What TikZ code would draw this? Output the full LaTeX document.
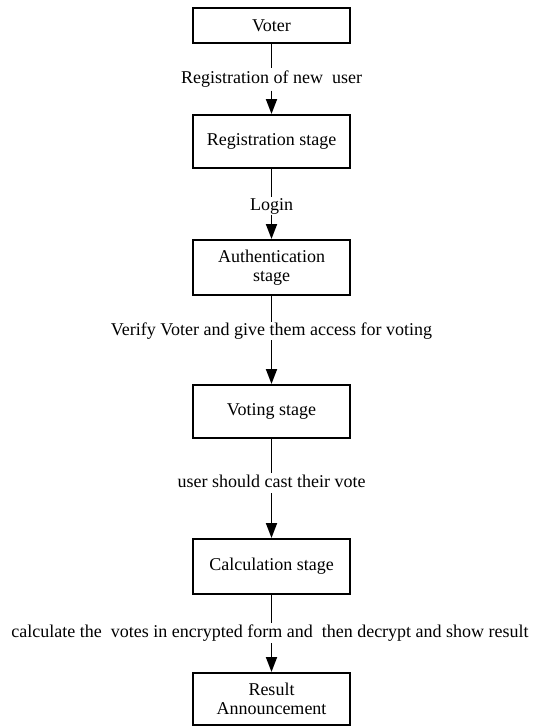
\documentclass[tikz,border=0pt]{standalone}
\usepackage{fontspec}
\setmainfont{Liberation Serif}
\usetikzlibrary{arrows.meta}
\begin{document}
\begin{tikzpicture}[x=1pt,y=-1pt,
  stagebox/.style={draw, line width=2pt, minimum width=157pt, inner sep=0pt, align=center, font=\fontsize{18}{19}\selectfont},
  lbl/.style={inner sep=0pt, font=\fontsize{18}{19}\selectfont, text height=12pt, text depth=4pt},
  conn/.style={line width=1.8pt},
  arr/.style={line width=1.8pt, -{Triangle[length=15pt,width=11pt]}}]
\useasboundingbox (0,0) rectangle (535,726);
\node[stagebox, minimum height=35pt] (voter) at (271.5,25.5) {Voter};
\node[stagebox, minimum height=53pt] (reg) at (271.5,141.5) {Registration stage};
\node[stagebox, minimum height=55pt] (auth) at (271.5,267.5) {Authentication\\stage};
\node[stagebox, minimum height=53pt] (vote) at (271.5,411.5) {Voting stage};
\node[stagebox, minimum height=55pt] (calc) at (271.5,566.5) {Calculation stage};
\node[stagebox, minimum height=52pt] (res) at (271.5,699) {Result\\Announcement};
\node[lbl, minimum height=22pt] (l1) at (271.5,79.5) {Registration of new\ \ user};
\node[lbl, minimum height=17pt] (l2) at (271.5,206) {Login};
\node[lbl, minimum height=18pt] (l3) at (271.5,331) {Verify Voter and give them access for voting};
\node[lbl, minimum height=20pt] (l4) at (271.5,483) {user should cast their vote};
\node[lbl, minimum height=20pt] (l5) at (270,633) {calculate the\ \ votes in encrypted form and\ \ then decrypt and show result};
\draw[conn] (voter.south) -- (voter.south |- l1.north);
\draw[arr] (reg.north |- l1.south) -- (reg.north);
\draw[conn] (reg.south) -- (reg.south |- l2.north);
\draw[arr] (auth.north |- l2.south) -- (auth.north);
\draw[conn] (auth.south) -- (auth.south |- l3.north);
\draw[arr] (vote.north |- l3.south) -- (vote.north);
\draw[conn] (vote.south) -- (vote.south |- l4.north);
\draw[arr] (calc.north |- l4.south) -- (calc.north);
\draw[conn] (calc.south) -- (calc.south |- l5.north);
\draw[arr] (res.north |- l5.south) -- (res.north);
\end{tikzpicture}
\end{document}
